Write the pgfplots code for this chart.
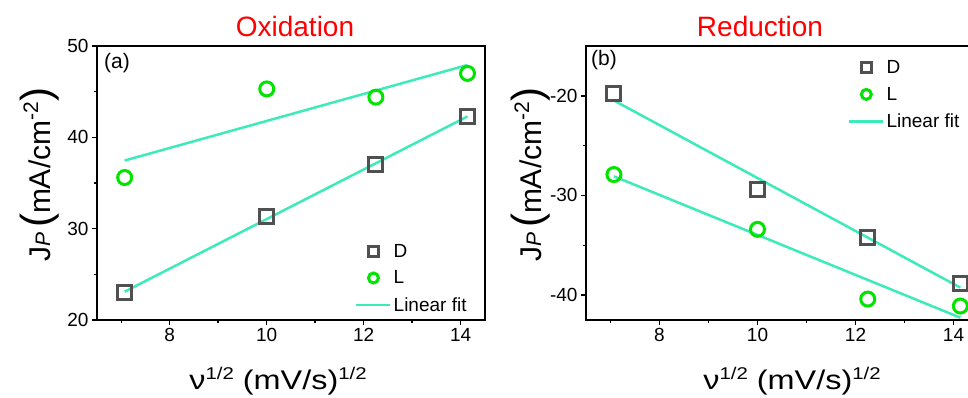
\documentclass[border=0pt]{standalone}
\usepackage{fontspec}
\setmainfont{Liberation Sans}
\newfontfamily\labelfont[FakeStretch=1.2]{Liberation Sans}
\usepackage{pgfplots}
\pgfplotsset{compat=1.18}
\definecolor{dgray}{RGB}{80,80,80}
\definecolor{lgreen}{RGB}{0,228,0}
\definecolor{fitc}{RGB}{60,235,185}
\pgfplotsset{
 myaxis/.style={
  scale only axis, anchor=south west,
  axis line style={line width=2pt},
  every tick/.style={line width=1.5pt, black},
  major tick length=5pt, minor tick length=3pt,
  tick align=outside, xtick pos=bottom, ytick pos=left,
  xmin=6.5, xmax=14.5,
  xtick={8,10,12,14}, minor xtick={7,9,11,13},
  tick label style={font=\fontsize{19}{19}\selectfont},
  /pgf/number format/assume math mode=true,
  legend cell align=left,
  legend style={draw=none, fill=none, font=\fontsize{19}{21}\selectfont, inner sep=0pt, row sep=8pt},
  legend image code/.code={\draw[mark repeat=2,mark phase=2,##1, mark size=5pt] plot coordinates {(0pt,0pt) (17pt,0pt) (34pt,0pt)};},
 },
 dstyle/.style={only marks, mark=square, mark size=7pt, draw=dgray, line width=3pt},
 lstyle/.style={only marks, mark=o, mark size=7pt, draw=lgreen, line width=3pt},
 fstyle/.style={no marks, draw=fitc, line width=2.5pt},
}
\begin{document}
\begin{tikzpicture}[x=1pt,y=1pt]
\path[use as bounding box] (0,0) rectangle (968,398);
\clip (0,0) rectangle (968,398);
% left panel
\begin{axis}[myaxis, at={(97pt,78pt)}, width=388pt, height=274pt,
  ymin=20, ymax=50, ytick={20,30,40,50}, minor ytick={25,35,45},
  legend style={at={(0.665,0.285)}, anchor=north west}]
\addplot[dstyle] coordinates {(7.07,23.0) (10,31.3) (12.25,37.0) (14.14,42.3)};
\addlegendentry{D}
\addplot[lstyle] coordinates {(7.07,35.6) (10,45.3) (12.25,44.4) (14.14,47.0)};
\addlegendentry{L}
\addplot[fstyle] coordinates {(7.07,23.10) (14.14,42.29)};
\addlegendentry{Linear fit}
\addplot[fstyle, forget plot] coordinates {(7.07,37.46) (14.14,47.92)};
\end{axis}
% right panel
\begin{axis}[myaxis, at={(586pt,78pt)}, width=392pt, height=274pt,
  ymin=-42.5, ymax=-15, ytick={-40,-30,-20}, minor ytick={-35,-25},
  legend style={at={(0.668,0.955)}, anchor=north west}]
\addplot[dstyle] coordinates {(7.07,-19.8) (10,-29.4) (12.25,-34.2) (14.14,-38.8)};
\addlegendentry{D}
\addplot[lstyle] coordinates {(7.07,-27.9) (10,-33.4) (12.25,-40.4) (14.14,-41.1)};
\addlegendentry{L}
\addplot[fstyle] coordinates {(7.07,-20.47) (14.14,-39.25)};
\addlegendentry{Linear fit}
\addplot[fstyle, forget plot] coordinates {(7.07,-28.08) (14.14,-42.27)};
\end{axis}
% titles
\node[anchor=base, text=red, font=\fontsize{28}{28}\selectfont] at (295,361) {Oxidation};
\node[anchor=base, text=red, font=\fontsize{28}{28}\selectfont] at (760,361) {Reduction};
% panel labels
\node[anchor=base west, inner sep=0pt, font=\fontsize{21}{21}\selectfont] at (104,329) {(a)};
\node[anchor=base west, inner sep=0pt, font=\fontsize{21}{21}\selectfont] at (591,332) {(b)};
% x labels
\node[anchor=base, inner sep=0pt] at (278,8) {\labelfont\fontsize{27}{27}\selectfont ν\raisebox{10pt}{\fontsize{17}{17}\selectfont 1/2} (mV/s)\raisebox{10pt}{\fontsize{17}{17}\selectfont 1/2}};
\node[anchor=base, inner sep=0pt] at (792,8) {\labelfont\fontsize{27}{27}\selectfont ν\raisebox{10pt}{\fontsize{17}{17}\selectfont 1/2} (mV/s)\raisebox{10pt}{\fontsize{17}{17}\selectfont 1/2}};
% y labels
\node[anchor=base, inner sep=0pt, rotate=90] at (50,223) {\fontsize{30}{30}\selectfont J{\fontsize{21}{21}\selectfont\itshape P}\,{\fontsize{42}{42}\selectfont(}mA/cm\raisebox{12pt}{\fontsize{21}{21}\selectfont -2}{\fontsize{42}{42}\selectfont)}};
\node[anchor=base, inner sep=0pt, rotate=90] at (541,223) {\fontsize{30}{30}\selectfont J{\fontsize{21}{21}\selectfont\itshape P}\,{\fontsize{42}{42}\selectfont(}mA/cm\raisebox{12pt}{\fontsize{21}{21}\selectfont -2}{\fontsize{42}{42}\selectfont)}};
\end{tikzpicture}
\end{document}
